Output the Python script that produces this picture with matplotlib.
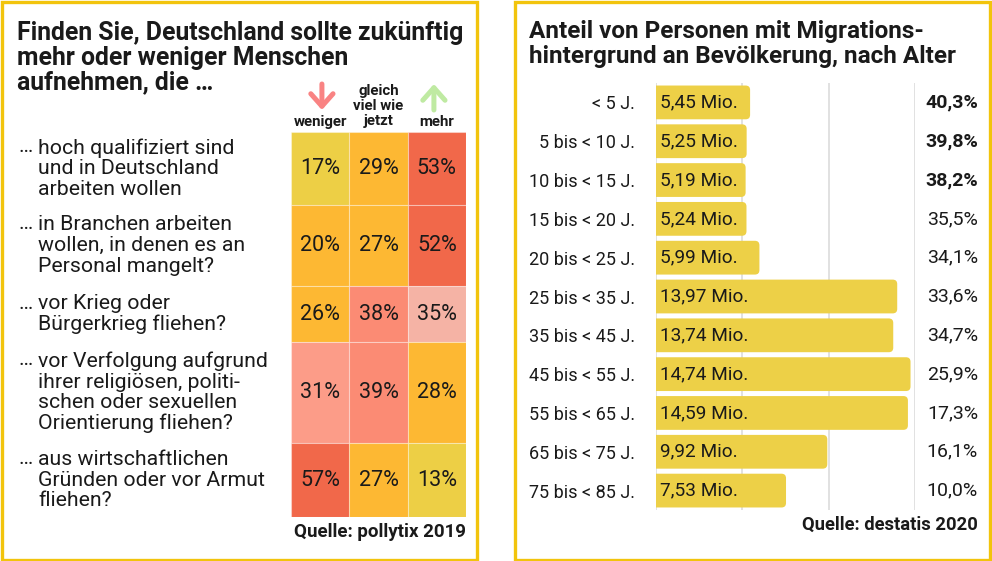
import matplotlib
matplotlib.use("Agg")
import matplotlib.pyplot as plt
from matplotlib.patches import Rectangle, FancyBboxPatch
from matplotlib.transforms import blended_transform_factory

plt.rcParams["font.family"] = ["Roboto", "DejaVu Sans"]

# ---- data: left panel (survey) ----
title_left = ["Finden Sie, Deutschland sollte zukünftig",
              "mehr oder weniger Menschen",
              "aufnehmen, die …"]
questions = [
    "hoch qualifiziert sind\nund in Deutschland\narbeiten wollen",
    "in Branchen arbeiten\nwollen, in denen es an\nPersonal mangelt?",
    "vor Krieg oder\nBürgerkrieg fliehen?",
    "vor Verfolgung aufgrund\nihrer religiösen, politi-\nschen oder sexuellen\nOrientierung fliehen?",
    "aus wirtschaftlichen\nGründen oder vor Armut\nfliehen?",
]
answers = ["weniger", "gleich\nviel wie\njetzt", "mehr"]
shares = [
    [17, 29, 53],
    [20, 27, 52],
    [26, 38, 35],
    [31, 39, 28],
    [57, 27, 13],
]

# ---- data: right panel (destatis) ----
age_groups = ["< 5 J.", "5 bis < 10 J.", "10 bis < 15 J.", "15 bis < 20 J.",
              "20 bis < 25 J.", "25 bis < 35 J.", "35 bis < 45 J.",
              "45 bis < 55 J.", "55 bis < 65 J.", "65 bis < 75 J.",
              "75 bis < 85 J."]
persons_mio = [5.45, 5.25, 5.19, 5.24, 5.99, 13.97, 13.74, 14.74, 14.59, 9.92, 7.53]
share_pct = [40.3, 39.8, 38.2, 35.5, 34.1, 33.6, 34.7, 25.9, 17.3, 16.1, 10.0]

# ---- styles ----
YEL = "#edcf45"
ORA = "#fdb833"
RED = "#f1684a"
SAL = "#fb8b74"
LSAL = "#fc9c88"
PINK = "#f5b3a5"
cell_colors = [
    [YEL, ORA, RED],
    [ORA, ORA, RED],
    [ORA, SAL, PINK],
    [LSAL, SAL, ORA],
    [RED, ORA, YEL],
]
row_heights = [73, 81, 56, 101, 74]
BORDER = "#f2c40c"
BAR = "#edd047"
INK = "#1a1a1a"
W, H = 992, 561


def fx(x):
    return x / W


def fy(y):
    return 1 - y / H


fig = plt.figure(figsize=(W / 100, H / 100), dpi=100)

# panel frames
for x0, x1 in [(1.5, 476.5), (514.5, 989.5)]:
    fig.patches.append(Rectangle((fx(x0), fy(559.5)), fx(x1 - x0), (558 / H),
                                 transform=fig.transFigure, fill=False,
                                 edgecolor=BORDER, linewidth=2.4))

# ---------------- left panel ----------------
for k, line in enumerate(title_left):
    fig.text(fx(17), fy(33 + 24.5 * k), line, fontsize=17.8,
             fontweight="bold", va="center", ha="left", color=INK)

ax = fig.add_axes([fx(291), fy(517), fx(466 - 291), (517 - 132) / H])
edges = [0]
for h in row_heights:
    edges.append(edges[-1] + h)
for i, row in enumerate(shares):
    for j, v in enumerate(row):
        ax.add_patch(Rectangle((j, edges[i]), 1, row_heights[i],
                               facecolor=cell_colors[i][j],
                               edgecolor=(1, 1, 1, 0.35), linewidth=0.8))
        ax.text(j + 0.5, edges[i] + row_heights[i] / 2, f"{v}%",
                ha="center", va="center", fontsize=15.5, color=INK)
ax.set_xlim(0, 3)
ax.set_ylim(edges[-1], 0)
ax.axis("off")

lab_tr = blended_transform_factory(fig.transFigure, ax.transData)
line_h = 21.8
for i, q in enumerate(questions):
    yc = edges[i] + row_heights[i] / 2
    n = q.count("\n") + 1
    ytop = yc - (n - 1) * line_h / 2
    ax.text(fx(18), ytop, "…", transform=lab_tr, ha="left", va="center",
            fontsize=15.3, color=INK)
    ax.text(fx(38), yc, q, transform=lab_tr, ha="left", va="center",
            fontsize=15.3, color=INK, linespacing=1.1)

hdr_tr = blended_transform_factory(ax.transData, fig.transFigure)
hdr_y = [fy(122), fy(106), fy(122)]
for j, a in enumerate(answers):
    ax.text(j + 0.5, hdr_y[j], a, transform=hdr_tr, ha="center",
            va="center", fontsize=10.8, fontweight="bold", linespacing=1.12,
            color=INK)

ax.annotate("", xy=(0.53, fy(110)), xytext=(0.53, fy(84)), xycoords=hdr_tr,
            textcoords=hdr_tr,
            arrowprops=dict(arrowstyle="->,head_length=0.45,head_width=0.4",
                            lw=3.6, color="#f98383", mutation_scale=20,
                            shrinkA=0, shrinkB=0))
ax.annotate("", xy=(2.45, fy(84)), xytext=(2.45, fy(110)), xycoords=hdr_tr,
            textcoords=hdr_tr,
            arrowprops=dict(arrowstyle="->,head_length=0.45,head_width=0.4",
                            lw=3.6, color="#bfeaa2", mutation_scale=20,
                            shrinkA=0, shrinkB=0))

fig.text(fx(466), fy(532), "Quelle: pollytix 2019", ha="right", va="center",
         fontsize=13.5, fontweight="bold", color=INK)

# ---------------- right panel ----------------
fig.text(fx(529), fy(44), "Anteil von Personen mit Migrations-\n"
         "hintergrund an Bevölkerung, nach Alter",
         fontsize=17.5, fontweight="bold", va="center", ha="left",
         linespacing=1.06, color=INK)

bx = fig.add_axes([fx(656), fy(510), fx(915 - 656), (510 - 83) / H])
ypos = list(range(len(age_groups)))
bars = bx.barh(ypos, persons_mio, height=0.87, color="none")
bx.set_xlim(0, 15)
bx.set_ylim(len(age_groups) - 0.5, -0.5)
px_per_x = (915 - 656) / 15
px_per_y = (510 - 83) / len(age_groups)
for b in bars:
    bx.add_patch(FancyBboxPatch((b.get_x() - 1, b.get_y()), b.get_width() + 1,
                                b.get_height(),
                                boxstyle="round,pad=0,rounding_size=0.26",
                                mutation_aspect=px_per_x / px_per_y,
                                facecolor=BAR, edgecolor="none", zorder=2))
for y, v in zip(ypos, persons_mio):
    bx.text(0.25, y, f"{v:.2f} Mio.".replace(".", ",", 1), va="center",
            ha="left", fontsize=13.7, color=INK, zorder=3)
for y, p in zip(ypos, share_pct):
    bx.text(15 + (978 - 915) / px_per_x, y, f"{p:.1f}%".replace(".", ","),
            va="center", ha="right", fontsize=14,
            fontweight="bold" if p > 38 else "normal", color=INK,
            clip_on=False)

bx.set_xticks([0, 5, 10, 15])
bx.xaxis.grid(True, color="#dcdcdc", linewidth=1.2)
bx.set_axisbelow(True)
bx.tick_params(axis="x", length=0, labelbottom=False)
bx.set_yticks(ypos)
bx.set_yticklabels(age_groups, fontsize=13, color=INK)
bx.tick_params(axis="y", length=0, pad=15)
for s in bx.spines.values():
    s.set_visible(False)

fig.text(fx(978), fy(525), "Quelle: destatis 2020", ha="right", va="center",
         fontsize=13.2, fontweight="bold", color=INK)

fig.savefig("out.png", dpi=100)
